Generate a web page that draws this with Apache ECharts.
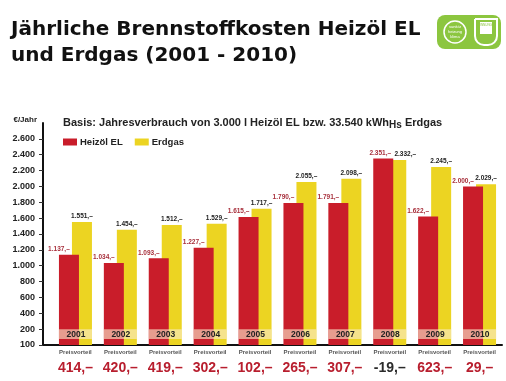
<!DOCTYPE html>
<html><head><meta charset="utf-8">
<script src="https://cdn.jsdelivr.net/npm/echarts@6/dist/echarts.min.js"></script>
<style>html,body{margin:0;padding:0;background:#fff}#c{width:506px;height:381px}</style>
</head><body><div id="c"></div>
<script>
var years = ['2001','2002','2003','2004','2005','2006','2007','2008','2009','2010'];
var heizoel = [1137,1034,1093,1227,1615,1790,1791,2351,1622,2000];
var erdgas = [1551,1454,1512,1529,1717,2055,2098,2332,2245,2029];
var vorteil = [414,420,419,302,102,265,307,-19,623,29];
var yTicks = [0,200,400,600,800,1000,1200,1400,1600,1800,2000,2200,2400,2600];

function fmt(v){ var s=String(Math.abs(v)); s=s.replace(/\B(?=(\d{3})+(?!\d))/g,'.'); return (v<0?'-':'')+s; }

var RED='#c91d2a', YEL='#ecd422';
var chart = echarts.init(document.getElementById('c'), null, {renderer:'canvas'});
var F='"Liberation Sans", Arial, sans-serif';

var redData = heizoel.map(function(v,i){
  return {value:v, label:{offset:[i===7?-3:-10,0]}};
});
var yelData = erdgas.map(function(v,i){
  return {value:v, label:{offset:[i===7?9:0,0]}};
});

chart.setOption({
  animation:false,
  title:[{
    text:'Jährliche Brennstoffkosten Heizöl EL\nund Erdgas (2001 - 2010)',
    left:6, top:12,
    textStyle:{fontFamily:'"DejaVu Sans", Verdana, sans-serif', fontWeight:'bold', fontSize:20, lineHeight:26, color:'#111'}
  },{
    text:'Basis: Jahresverbrauch von 3.000 l Heizöl EL bzw. 33.540 kWh{sub|Hs} Erdgas',
    left:58, top:110,
    textStyle:{fontFamily:F, fontWeight:'bold', fontSize:11, color:'#222',
      rich:{sub:{fontFamily:F, fontWeight:'bold', fontSize:10, color:'#222', padding:[5,0,0,0]}}}
  }],
  legend:{
    left:58, top:132, itemWidth:14, itemHeight:7, itemGap:12,
    icon:'rect',
    textStyle:{fontFamily:F, fontWeight:'bold', fontSize:9.5, color:'#222', padding:[0,0,0,-2]},
    data:['Heizöl EL','Erdgas']
  },
  grid:{left:53, right:4, top:123, bottom:36},
  xAxis:{
    type:'category', data:years,
    axisLine:{lineStyle:{color:'#111', width:2}, symbol:['rect','none'], symbolSize:[2,20]},
    axisTick:{show:false},
    axisLabel:{
      margin:3, interval:0,
      formatter:function(v,i){ return '{a|Preisvorteil}\n{'+(vorteil[i]<0?'n':'b')+'|'+fmt(vorteil[i])+',–}'; },
      rich:{
        a:{fontFamily:F, fontWeight:'bold', fontSize:6, color:'#555', lineHeight:9},
        b:{fontFamily:F, fontWeight:'bold', fontSize:14, color:'#b81e2e', lineHeight:22},
        n:{fontFamily:F, fontWeight:'bold', fontSize:14, color:'#2a2a2a', lineHeight:22}
      }
    }
  },
  yAxis:{
    type:'value', min:0, max:2800, interval:200, offset:10,
    name:'€/Jahr', nameLocation:'end', nameGap:3,
    nameTextStyle:{fontFamily:F, fontWeight:'bold', fontSize:8, color:'#222', align:'right', verticalAlign:'middle', padding:[0,6,0,0]},
    axisLine:{show:true, lineStyle:{color:'#111', width:2}},
    axisTick:{show:true, length:4, lineStyle:{color:'#333'}, customValues:yTicks},
    splitLine:{show:false},
    axisLabel:{
      margin:8, customValues:yTicks,
      fontFamily:F, fontWeight:'bold', fontSize:9, color:'#222',
      formatter:function(v){ return v===0 ? '100' : fmt(v); }
    }
  },
  series:[{
    name:'Heizöl EL', type:'bar', data:redData, barWidth:20, barGap:'-35%', z:3,
    itemStyle:{color:RED},
    label:{show:true, position:'top', distance:2, fontFamily:F, fontWeight:'bold', fontSize:6.5, color:'#a8303c',
      formatter:function(p){return fmt(p.value)+',–';}}
  },{
    name:'Erdgas', type:'bar', data:yelData, barWidth:20, z:2,
    itemStyle:{color:YEL},
    label:{show:true, position:'top', distance:2, fontFamily:F, fontWeight:'bold', fontSize:6.5, color:'#222',
      formatter:function(p){return fmt(p.value)+',–';}}
  },{
    type:'custom', z:5, silent:true,
    data:years.map(function(y,i){return [i];}),
    encode:{x:0},
    renderItem:function(params, api){
      var i = api.value(0);
      var top = api.coord([i,200]);
      var bot = api.coord([i,75]);
      var cx = top[0];
      return {type:'group', children:[{
        type:'rect', shape:{x:cx-16.5, y:top[1], width:33, height:bot[1]-top[1]},
        style:{fill:'rgba(250,236,205,0.62)'}
      },{
        type:'text', style:{text:years[i], x:cx+0.5, y:(top[1]+bot[1])/2+0.5, align:'center', verticalAlign:'middle',
          font:'bold 8.5px "Liberation Sans", Arial, sans-serif', fill:'#222'}
      }]};
    }
  }],
  graphic:[{
    type:'group', left:437, top:15, children:[
      {type:'rect', shape:{x:0,y:0,width:64,height:34,r:8}, style:{fill:'#8cc63f'}},
      {type:'circle', shape:{cx:18,cy:17,r:11}, style:{fill:'none', stroke:'#fff', lineWidth:1.5}},
      {type:'text', style:{text:'sanitär\nheizung\nklima', x:18, y:17, align:'center', verticalAlign:'middle', font:'4px sans-serif', fill:'#fff', lineHeight:5}},
      {type:'rect', shape:{x:38,y:4,width:22,height:26,r:[0,0,9,9]}, style:{fill:'none', stroke:'#fff', lineWidth:2}},
      {type:'rect', shape:{x:43,y:7,width:12,height:12}, style:{fill:'#fff'}},
      {type:'text', style:{text:'INNUNG', x:49, y:10, align:'center', verticalAlign:'middle', font:'3px sans-serif', fill:'#8cc63f'}}
    ]
  }]
});
</script></body></html>
